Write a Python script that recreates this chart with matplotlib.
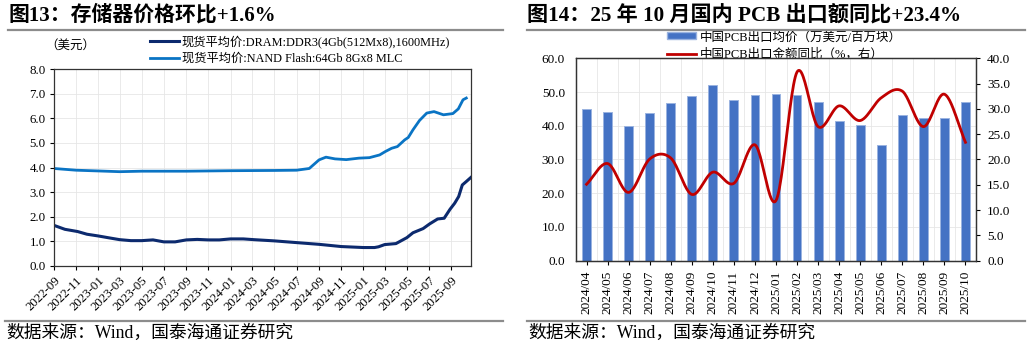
import numpy as np
import pandas as pd
import matplotlib
matplotlib.use("Agg")
import matplotlib.pyplot as plt
import matplotlib.dates as mdates
from matplotlib.lines import Line2D
from matplotlib.patches import Patch

FAMILY = ['Liberation Serif', 'Noto Sans CJK SC']
plt.rcParams['font.family'] = FAMILY
plt.rcParams['axes.unicode_minus'] = False

# ---- memory spot prices (USD) ----
dram_dates = ["2022-09-01", "2022-10-01", "2022-11-05", "2022-12-01", "2023-01-01",
              "2023-02-01", "2023-03-01", "2023-04-01", "2023-05-01", "2023-06-01",
              "2023-07-01", "2023-08-01", "2023-09-01", "2023-10-01", "2023-11-01",
              "2023-12-01", "2024-01-01", "2024-02-05", "2024-03-05", "2024-05-01",
              "2024-07-01", "2024-09-01", "2024-11-01", "2025-01-01", "2025-02-01",
              "2025-02-12", "2025-03-01", "2025-04-01", "2025-05-01", "2025-05-18",
              "2025-06-15", "2025-07-03", "2025-07-25", "2025-08-12", "2025-08-28",
              "2025-09-10", "2025-09-21", "2025-10-01", "2025-10-12", "2025-10-25"]
dram_price = [1.65, 1.49, 1.40, 1.29, 1.22,
              1.14, 1.07, 1.03, 1.03, 1.06,
              0.98, 0.98, 1.06, 1.08, 1.06,
              1.06, 1.10, 1.10, 1.07, 1.02,
              0.95, 0.88, 0.79, 0.75, 0.75,
              0.78, 0.87, 0.91, 1.15, 1.35,
              1.52, 1.71, 1.91, 1.94, 2.30,
              2.55, 2.82, 3.29, 3.43, 3.60]

nand_dates = ["2022-09-01", "2022-11-01", "2023-01-01", "2023-03-01", "2023-05-01",
              "2023-09-01", "2024-01-01", "2024-05-01", "2024-07-01", "2024-08-05",
              "2024-09-01", "2024-09-20", "2024-10-15", "2024-11-15", "2024-12-20",
              "2025-01-18", "2025-02-15", "2025-03-03", "2025-03-20", "2025-04-05",
              "2025-04-25", "2025-05-05", "2025-05-18", "2025-06-05", "2025-06-25",
              "2025-07-15", "2025-08-10", "2025-09-05", "2025-09-20", "2025-10-03",
              "2025-10-12"]
nand_price = [3.96, 3.89, 3.86, 3.83, 3.85,
              3.85, 3.87, 3.88, 3.89, 3.96,
              4.31, 4.42, 4.35, 4.32, 4.38,
              4.40, 4.51, 4.65, 4.78, 4.85,
              5.12, 5.22, 5.53, 5.91, 6.21,
              6.27, 6.14, 6.19, 6.38, 6.75,
              6.82]

# ---- PCB exports ----
months = ["2024/04", "2024/05", "2024/06", "2024/07", "2024/08", "2024/09", "2024/10",
          "2024/11", "2024/12", "2025/01", "2025/02", "2025/03", "2025/04", "2025/05",
          "2025/06", "2025/07", "2025/08", "2025/09", "2025/10"]
pcb_price = [45.0, 44.0, 39.8, 43.7, 46.8, 48.7, 52.1, 47.6, 49.0, 49.4,
             49.1, 46.9, 41.5, 40.1, 34.2, 43.3, 42.3, 42.3, 47.0]
pcb_yoy = [15.1, 19.2, 13.5, 20.1, 20.3, 13.1, 17.5, 15.3, 22.9, 11.9,
           37.3, 26.5, 30.6, 27.7, 32.2, 33.5, 26.5, 32.9, 23.4]

W, H = 1032, 348
fig = plt.figure(figsize=(W / 100, H / 100), dpi=100)


def fx(px):
    return px / W


def fy(py):
    return 1 - py / H


def smooth(xs, ys, n=24):
    # Catmull-Rom style smoothing like a spreadsheet "smoothed line"
    xs = np.asarray(xs, float)
    ys = np.asarray(ys, float)
    px = np.concatenate([[2 * xs[0] - xs[1]], xs, [2 * xs[-1] - xs[-2]]])
    py = np.concatenate([[2 * ys[0] - ys[1]], ys, [2 * ys[-1] - ys[-2]]])
    ox, oy = [], []
    t = np.linspace(0, 1, n, endpoint=False)
    for i in range(1, len(px) - 2):
        p0, p1, p2, p3 = [np.array([px[j], py[j]]) for j in (i - 1, i, i + 1, i + 2)]
        c1 = p1 + (p2 - p0) / 6
        c2 = p2 - (p3 - p1) / 6
        for tt in t:
            b = ((1 - tt) ** 3) * p1 + 3 * ((1 - tt) ** 2) * tt * c1 \
                + 3 * (1 - tt) * tt ** 2 * c2 + tt ** 3 * p2
            ox.append(b[0])
            oy.append(b[1])
    ox.append(xs[-1])
    oy.append(ys[-1])
    return np.array(ox), np.array(oy)


def frame(y_top, x0, x1):
    fig.add_artist(Line2D([fx(x0), fx(x1)], [fy(y_top)] * 2, color='#8c8c8c', lw=1.6))


grid_c = '#e6e6e6'

# ================= left panel =================
fig.text(fx(8), fy(15), "图13：存储器价格环比+1.6%", fontsize=15, fontweight='bold',
         va='center', ha='left')
frame(30, 8, 503)
frame(321, 5, 503)
fig.text(fx(6), fy(333), "数据来源：Wind，国泰海通证券研究", fontsize=12.8, va='center')

ax1 = fig.add_axes([fx(54), fy(266), fx(471 - 54), (266 - 69) / H])
d1 = pd.to_datetime(dram_dates)
d2 = pd.to_datetime(nand_dates)
ax1.plot(d1, dram_price, color='#0c2a6e', lw=2.2, label="现货平均价:DRAM:DDR3(4Gb(512Mx8),1600MHz)")
ax1.plot(d2, nand_price, color='#0a74c4', lw=2.0, label="现货平均价:NAND Flash:64Gb 8Gx8 MLC")
ax1.set_ylim(0, 8)
ax1.set_yticks(np.arange(0, 8.01, 1.0))
ax1.yaxis.set_major_formatter(matplotlib.ticker.FormatStrFormatter('%.1f'))
ax1.set_xlim(pd.Timestamp("2022-09-01"), pd.Timestamp("2025-10-25"))
xt = pd.date_range("2022-09-01", "2025-09-01", freq="2MS")
ax1.set_xticks(xt)
ax1.xaxis.set_major_formatter(mdates.DateFormatter('%Y-%m'))
for lab in ax1.get_xticklabels():
    lab.set_rotation(45)
    lab.set_ha('right')
    lab.set_rotation_mode('anchor')
ax1.tick_params(axis='both', direction='out', length=3, width=0.8, labelsize=9.3, pad=3)
ax1.grid(True, color=grid_c, lw=0.6)
ax1.set_axisbelow(True)
for s in ax1.spines.values():
    s.set_color('#333333')
    s.set_linewidth(0.9)
fig.text(fx(45), fy(46), "（美元）", fontsize=9, va='center', ha='left')
h1, l1 = ax1.get_legend_handles_labels()
fig.legend(h1, l1, loc='upper left', bbox_to_anchor=(fx(150), fy(35)), frameon=False,
           fontsize=8.8, handlelength=2.4, handletextpad=0.2, labelspacing=0.4,
           borderpad=0, borderaxespad=0)

# ================= right panel =================
fig.text(fx(527), fy(15), "图14：25 年 10 月国内 PCB 出口额同比+23.4%", fontsize=15.2,
         fontweight='bold', va='center', ha='left')
frame(30, 527, 1025)
frame(321, 527, 1025)
fig.text(fx(528), fy(333), "数据来源：Wind，国泰海通证券研究", fontsize=12.8, va='center')

ax2 = fig.add_axes([fx(576), fy(260.7), fx(400), (260.7 - 58.3) / H])
ax2.set_zorder(2)
xpos = np.arange(len(months))
ax2.bar(xpos, pcb_price, width=0.42, color='#4472c4', edgecolor='#9ab3e0', linewidth=0.7,
        label="中国PCB出口均价（万美元/百万块）", zorder=2)
ax2.set_xlim(-0.5, len(months) - 0.5)
ax2.set_ylim(0, 60)
ax2.set_yticks(np.arange(0, 60.1, 10))
ax2.yaxis.set_major_formatter(matplotlib.ticker.FormatStrFormatter('%.1f'))
ax2.set_xticks(xpos)
ax2.set_xticklabels(months, rotation=90, va='top')
ax2.set_xticks(np.arange(-0.5, len(months), 1.0), minor=True)
ax2.tick_params(axis='x', which='minor', length=0)
ax2.grid(True, axis='y', color=grid_c, lw=0.6)
ax2.grid(True, axis='x', which='minor', color=grid_c, lw=0.6)
ax2.set_axisbelow(True)
ax2.tick_params(axis='both', which='major', direction='out', length=3, width=0.8,
                labelsize=9.5, pad=4)
ax2.tick_params(axis='y', length=0, pad=8)

ax3 = ax2.twinx()
ax3.set_zorder(3)
sx, sy = smooth(xpos, pcb_yoy)
ax3.plot(sx, sy, color='#c00000', lw=2.0, zorder=3, label="中国PCB出口金额同比（%，右）")
ax3.set_ylim(0, 40)
ax3.set_yticks(np.arange(0, 40.1, 5))
ax3.yaxis.set_major_formatter(matplotlib.ticker.FormatStrFormatter('%.1f'))
ax3.tick_params(axis='y', direction='out', length=3, width=0.8, labelsize=9.5, pad=5)
for a in (ax2, ax3):
    for s in a.spines.values():
        s.set_color('#333333')
        s.set_linewidth(0.9)

handles = [Patch(facecolor='#4472c4', edgecolor='#9ab3e0'),
           Line2D([], [], color='#c00000', lw=2.0)]
labels = ["中国PCB出口均价（万美元/百万块）", "中国PCB出口金额同比（%，右）"]
leg = fig.legend(handles, labels, loc='upper left', bbox_to_anchor=(fx(667), fy(31)),
                 frameon=False, fontsize=9, handlelength=2.3, handleheight=0.5,
                 handletextpad=0.3, labelspacing=0.4, borderpad=0, borderaxespad=0)
leg.set_zorder(1)

fig.savefig("out.png", dpi=100)
